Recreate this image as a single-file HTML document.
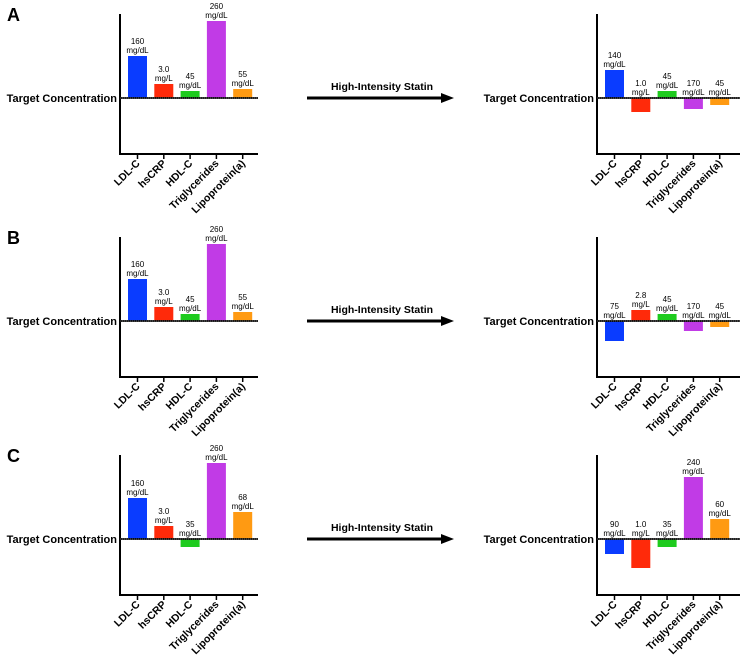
<!DOCTYPE html>
<html><head><meta charset="utf-8"><style>
html,body{margin:0;padding:0;background:#fff;}
svg{display:block;font-family:"Liberation Sans",Arial,sans-serif;}
</style></head><body>
<svg id="fig" width="741" height="664" viewBox="0 0 741 664" xmlns="http://www.w3.org/2000/svg"></svg>
<script>
// Categories and colours
const categories = ["LDL-C","hsCRP","HDL-C","Triglycerides","Lipoprotein(a)"];
const colors = ["#0a3cff","#ff2a0a","#1ecb1e","#c13be6","#ff9a12"];
// Deviation from target concentration (relative units) per panel
const aBefore = [42,14,7,77,9];
const aAfter  = [28,-14,7,-11,-7];
const bBefore = [42,14,7,77,9];
const bAfter  = [-20,11,7,-10,-6];
const cBefore = [41,13,-8,76,27];
const cAfter  = [-15,-29,-8,62,20];
// Printed value labels
const aBeforeLbl = [["160","mg/dL"],["3.0","mg/L"],["45","mg/dL"],["260","mg/dL"],["55","mg/dL"]];
const aAfterLbl  = [["140","mg/dL"],["1.0","mg/L"],["45","mg/dL"],["170","mg/dL"],["45","mg/dL"]];
const bBeforeLbl = aBeforeLbl;
const bAfterLbl  = [["75","mg/dL"],["2.8","mg/L"],["45","mg/dL"],["170","mg/dL"],["45","mg/dL"]];
const cBeforeLbl = [["160","mg/dL"],["3.0","mg/L"],["35","mg/dL"],["260","mg/dL"],["68","mg/dL"]];
const cAfterLbl  = [["90","mg/dL"],["1.0","mg/L"],["35","mg/dL"],["240","mg/dL"],["60","mg/dL"]];
const panelLetters = ["A","B","C"];

const NS="http://www.w3.org/2000/svg";
const svg=document.getElementById('fig');
function mk(tag,attrs,parent){const e=document.createElementNS(NS,tag);for(const k in attrs)e.setAttribute(k,attrs[k]);(parent||svg).appendChild(e);return e;}

function chart(axisX,endX,base,vals,lbls,name){
  const g=mk('g',{});
  
  
  const step=26.3, first=axisX+17.5, bw=19;
  const xScale=i=>first+i*step;
  const yScale=v=>base-v;
  // axes
  const ya=mk('line',{x1:axisX,y1:base-84,x2:axisX,y2:base+56,stroke:'#000','stroke-width':2},g);
  
  const xa=mk('line',{x1:axisX-1,y1:base+56,x2:endX,y2:base+56,stroke:'#000','stroke-width':2},g);
  
  const t=mk('text',{x:axisX-3,y:base+4,'text-anchor':'end','font-size':11,'font-weight':'bold'},g);
  t.textContent='Target Concentration';
  
  vals.forEach((v,i)=>{
    const cx=xScale(i);
    const y0=Math.min(yScale(v),base), h=Math.abs(v);
    const r=mk('rect',{x:cx-bw/2,y:y0,width:bw,height:h,fill:colors[i]},g);
    
    
    const ly=Math.min(yScale(v),base);
    const l=mk('text',{x:cx,y:ly-12,'text-anchor':'middle','font-size':8},g);
    l.textContent=lbls[i][0];
    
    const l2=mk('text',{x:cx,y:ly-3,'text-anchor':'middle','font-size':8},g);
    l2.textContent=lbls[i][1];
    
    mk('line',{x1:cx,y1:base+56,x2:cx,y2:base+61,stroke:'#000','stroke-width':1.5},g);
    const tl=mk('text',{x:0,y:0,'text-anchor':'end','font-size':10.5,'font-weight':'bold',
      transform:`translate(${cx+3},${base+66}) rotate(-45)`},g);
    tl.textContent=categories[i];
    
  });
  mk('line',{x1:axisX,y1:base,x2:endX,y2:base,stroke:'#000','stroke-width':1.8},g);
  mk('line',{x1:axisX,y1:base,x2:endX,y2:base,stroke:'#666','stroke-width':0.8,'stroke-dasharray':'1,1'},g);
}
function arrow(base){
  const g=mk('g',{});
  
  mk('line',{x1:307,y1:base,x2:444,y2:base,stroke:'#000','stroke-width':3},g);
  mk('polygon',{points:`441,${base-5} 454,${base} 441,${base+5}`,fill:'#000'},g);
  const t=mk('text',{x:382,y:base-8,'text-anchor':'middle','font-size':10.5,'font-weight':'bold'},g);
  t.textContent='High-Intensity Statin';
  
}
const bases=[98,321,539];
const before=[aBefore,bBefore,cBefore], after=[aAfter,bAfter,cAfter];
const beforeL=[aBeforeLbl,bBeforeLbl,cBeforeLbl], afterL=[aAfterLbl,bAfterLbl,cAfterLbl];
bases.forEach((b,p)=>{
  const L=mk('text',{x:7,y:b-77+[0,0,0][p],'font-size':18,'font-weight':'bold'});
  L.textContent=panelLetters[p];
  
  chart(120,258,b,before[p],beforeL[p],'chart-before-'+panelLetters[p].toLowerCase());
  arrow(b);
  chart(597,740,b,after[p],afterL[p],'chart-after-'+panelLetters[p].toLowerCase());
});
</script>
</body></html>
